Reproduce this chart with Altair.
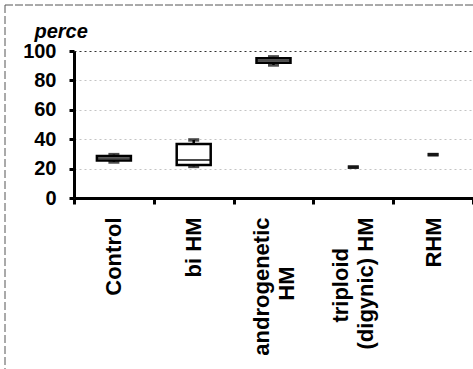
import altair as alt
import pandas as pd

categories = ["Control", "bi HM", "androgenetic HM", "triploid (digynic) HM", "RHM"]
w_low = [24.5, 21.5, 90.5, 21.0, 29.5]
q1 = [25.5, 22.5, 92.0, 21.0, 29.5]
median = [27.0, 25.8, 93.5, 21.0, 29.5]
q3 = [28.5, 36.8, 95.0, 21.0, 29.5]
w_high = [29.5, 39.5, 96.0, 21.0, 29.5]
y_ticks = [0, 20, 40, 60, 80, 100]

df = pd.DataFrame({"cat": categories, "lo": w_low, "q1": q1, "med": median,
                   "q3": q3, "hi": w_high})

NB = "\u00a0"
ZW = "\u200b"
label_lines = {
    "androgenetic HM": ["androgenetic", "HM" + NB * 8 + ZW],
    "triploid (digynic) HM": ["triploid" + NB * 5 + ZW, "(digynic) HM"],
}
expr = "datum.label"
for k, v in label_lines.items():
    arr = "[" + ",".join("'" + s + "'" for s in v) + "]"
    expr = f"datum.label == '{k}' ? {arr} : ({expr})"

FONT = "Liberation Sans"
LH = 25

xenc = alt.X("cat:N", sort=categories, title=None,
             scale=alt.Scale(paddingInner=0, paddingOuter=0),
             axis=alt.Axis(labelAngle=270, labelAlign="right", labelBaseline="middle",
                           labelFontSize=22, labelFont=FONT, labelFontWeight="bold",
                           labelColor="black", labelPadding=13, labelLineHeight=LH,
                           labelOffset={"condition": {"test": "indexof(datum.label, ' HM') > 0 && length(datum.label) > 10",
                                                      "value": -LH / 2},
                                        "value": 0},
                           labelExpr=expr, tickBand="extent", tickSize=6, tickWidth=3,
                           tickColor="black", domainColor="black", domainWidth=3,
                           grid=False, labelLimit=400))

yaxis = alt.Axis(values=y_ticks, title="perce", titleAngle=0, titleAlign="left",
                 titleBaseline="alphabetic", titleX=-40, titleY=-14,
                 titleFont=FONT, titleFontSize=20, titleFontStyle="italic",
                 titleFontWeight="bold", titleColor="black",
                 labelFont=FONT, labelFontSize=20, labelFontWeight="bold",
                 labelColor="black", labelPadding=13, tickSize=5, tickWidth=3,
                 tickColor="black", domainColor="black", domainWidth=3,
                 grid=True, gridDash=[2, 3], gridWidth=1,
                 gridColor={"condition": {"test": "datum.value == 100", "value": "#333"},
                            "value": "#c4c4c4"})
yscale = alt.Scale(domain=[0, 100], nice=False)

base = alt.Chart(df)

whisker = base.mark_rule(color="black", strokeWidth=2.5).encode(
    x=xenc, y=alt.Y("lo:Q", scale=yscale, axis=yaxis), y2="hi:Q")

box = base.transform_filter("datum.q3 > datum.q1").mark_bar(
    size=34, fill="white", stroke="black", strokeWidth=2.5).encode(
    x=xenc, y=alt.Y("q1:Q", scale=yscale, axis=yaxis), y2="q3:Q")

med = base.transform_filter("datum.q3 > datum.q1").mark_tick(
    size=34, thickness=2, color="black").encode(
    x=xenc, y=alt.Y("med:Q", scale=yscale, axis=yaxis))

caps = base.transform_fold(["lo", "hi"], as_=["k", "v"]).mark_tick(
    size=11, thickness=3.5, color="black").encode(
    x=xenc, y=alt.Y("v:Q", scale=yscale, axis=yaxis))

border_top = alt.Chart(pd.DataFrame({"a": [0]})).mark_rule(
    color="#555", strokeWidth=1, strokeDash=[8, 2]).encode(
    x=alt.value(-69), x2=alt.value(400), y=alt.value(-46))
border_left = alt.Chart(pd.DataFrame({"a": [0]})).mark_rule(
    color="#555", strokeWidth=1, strokeDash=[8, 3]).encode(
    x=alt.value(-69), y=alt.value(-46), y2=alt.value(318))

chart = alt.layer(whisker, box, med, caps, border_top, border_left).properties(
    width=399, height=147, autosize="none",
    padding={"left": 74, "top": 51, "right": 0, "bottom": 171},
    background="white",
).configure_view(stroke=None)

chart.save("out.html", embed_options={"renderer": "svg", "actions": False})
